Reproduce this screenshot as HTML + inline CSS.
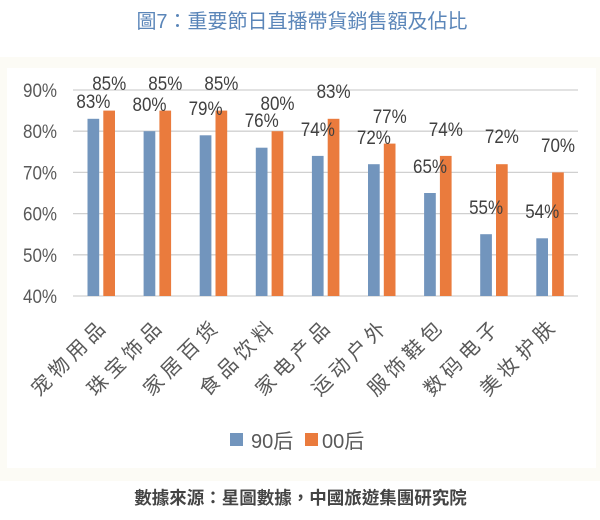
<!DOCTYPE html>
<html>
<head>
<meta charset="utf-8">
<style>
  html,body{margin:0;padding:0;background:#fff;}
  svg{display:block;}
  .num{font-family:"Liberation Sans","Noto Sans CJK SC",sans-serif;font-size:19px;fill:#404040;}
  .yl{font-family:"Liberation Sans","Noto Sans CJK SC",sans-serif;font-size:19px;fill:#595959;}
  .xl{font-family:"Liberation Sans","Noto Sans CJK SC",sans-serif;font-size:20px;fill:#595959;}
  .lg{font-family:"Liberation Sans","Noto Sans CJK SC",sans-serif;font-size:20px;fill:#595959;}
  .title{font-family:"Liberation Sans","Noto Sans CJK TC",sans-serif;font-size:20px;fill:#5b86b9;}
  .foot{font-family:"Liberation Sans","Noto Sans CJK TC",sans-serif;font-size:17.5px;font-weight:bold;fill:#444;}
</style>
</head>
<body>
<svg width="600" height="520" viewBox="0 0 600 520" xmlns="http://www.w3.org/2000/svg">
  <rect x="0" y="0" width="600" height="520" fill="#ffffff"/>
  <rect x="0" y="57" width="600" height="424" fill="#fcfbf5"/>
  <rect x="7" y="68" width="589" height="400" fill="#ffffff"/>

  <text class="title" x="302" y="28" text-anchor="middle">圖7：重要節日直播帶貨銷售額及佔比</text>

  <!-- gridlines -->
  <g stroke="#d0d0d0" stroke-width="1.3">
    <line x1="73" y1="90" x2="578" y2="90"/>
    <line x1="73" y1="131.2" x2="578" y2="131.2"/>
    <line x1="73" y1="172.4" x2="578" y2="172.4"/>
    <line x1="73" y1="213.6" x2="578" y2="213.6"/>
    <line x1="73" y1="254.8" x2="578" y2="254.8"/>
    <line x1="73" y1="296" x2="578" y2="296"/>
  </g>

  <!-- y labels -->
  <g class="yl">
    <text x="23" y="97" textLength="34" lengthAdjust="spacingAndGlyphs">90%</text>
    <text x="23" y="138.2" textLength="34" lengthAdjust="spacingAndGlyphs">80%</text>
    <text x="23" y="179.4" textLength="34" lengthAdjust="spacingAndGlyphs">70%</text>
    <text x="23" y="220.6" textLength="34" lengthAdjust="spacingAndGlyphs">60%</text>
    <text x="23" y="261.8" textLength="34" lengthAdjust="spacingAndGlyphs">50%</text>
    <text x="23" y="303" textLength="34" lengthAdjust="spacingAndGlyphs">40%</text>
  </g>

  <!-- bars -->
  <g fill="#7295bd">
    <rect x="87.5" y="118.8" width="11.7" height="177.2"/>
    <rect x="143.6" y="131.2" width="11.7" height="164.8"/>
    <rect x="199.7" y="135.3" width="11.7" height="160.7"/>
    <rect x="255.8" y="147.7" width="11.7" height="148.3"/>
    <rect x="311.9" y="155.9" width="11.7" height="140.1"/>
    <rect x="368.0" y="164.2" width="11.7" height="131.8"/>
    <rect x="424.1" y="193.0" width="11.7" height="103.0"/>
    <rect x="480.2" y="234.2" width="11.7" height="61.8"/>
    <rect x="536.3" y="238.3" width="11.7" height="57.7"/>
  </g>
  <g fill="#ea7b3d">
    <rect x="103.3" y="110.6" width="11.7" height="185.4"/>
    <rect x="159.4" y="110.6" width="11.7" height="185.4"/>
    <rect x="215.5" y="110.6" width="11.7" height="185.4"/>
    <rect x="271.6" y="131.2" width="11.7" height="164.8"/>
    <rect x="327.7" y="118.8" width="11.7" height="177.2"/>
    <rect x="383.8" y="143.6" width="11.7" height="152.4"/>
    <rect x="439.9" y="155.9" width="11.7" height="140.1"/>
    <rect x="496.0" y="164.2" width="11.7" height="131.8"/>
    <rect x="552.1" y="172.4" width="11.7" height="123.6"/>
  </g>

  <!-- value labels -->
  <g class="num">
    <text x="76.4" y="108" textLength="34" lengthAdjust="spacingAndGlyphs">83%</text>
    <text x="132.5" y="111" textLength="34" lengthAdjust="spacingAndGlyphs">80%</text>
    <text x="188.6" y="115" textLength="34" lengthAdjust="spacingAndGlyphs">79%</text>
    <text x="244.7" y="127" textLength="34" lengthAdjust="spacingAndGlyphs">76%</text>
    <text x="300.8" y="136" textLength="34" lengthAdjust="spacingAndGlyphs">74%</text>
    <text x="356.9" y="144" textLength="34" lengthAdjust="spacingAndGlyphs">72%</text>
    <text x="413.0" y="173" textLength="34" lengthAdjust="spacingAndGlyphs">65%</text>
    <text x="469.1" y="214" textLength="34" lengthAdjust="spacingAndGlyphs">55%</text>
    <text x="525.2" y="218" textLength="34" lengthAdjust="spacingAndGlyphs">54%</text>

    <text x="92.2" y="90" textLength="34" lengthAdjust="spacingAndGlyphs">85%</text>
    <text x="148.3" y="90" textLength="34" lengthAdjust="spacingAndGlyphs">85%</text>
    <text x="204.4" y="90" textLength="34" lengthAdjust="spacingAndGlyphs">85%</text>
    <text x="260.5" y="110" textLength="34" lengthAdjust="spacingAndGlyphs">80%</text>
    <text x="316.6" y="98" textLength="34" lengthAdjust="spacingAndGlyphs">83%</text>
    <text x="372.7" y="123" textLength="34" lengthAdjust="spacingAndGlyphs">77%</text>
    <text x="428.8" y="136" textLength="34" lengthAdjust="spacingAndGlyphs">74%</text>
    <text x="484.9" y="143" textLength="34" lengthAdjust="spacingAndGlyphs">72%</text>
    <text x="541.0" y="152" textLength="34" lengthAdjust="spacingAndGlyphs">70%</text>
  </g>

  <!-- x labels -->
  <g class="xl" text-anchor="middle" dominant-baseline="central">
    <text x="42.2" y="385.8" transform="rotate(-45 42.2 385.8)">宠</text>
    <text x="59.8" y="368.2" transform="rotate(-45 59.8 368.2)">物</text>
    <text x="77.4" y="350.6" transform="rotate(-45 77.4 350.6)">用</text>
    <text x="95.0" y="333.0" transform="rotate(-45 95.0 333.0)">品</text>

    <text x="98.3" y="385.8" transform="rotate(-45 98.3 385.8)">珠</text>
    <text x="115.9" y="368.2" transform="rotate(-45 115.9 368.2)">宝</text>
    <text x="133.5" y="350.6" transform="rotate(-45 133.5 350.6)">饰</text>
    <text x="151.1" y="333.0" transform="rotate(-45 151.1 333.0)">品</text>

    <text x="154.4" y="385.8" transform="rotate(-45 154.4 385.8)">家</text>
    <text x="172.0" y="368.2" transform="rotate(-45 172.0 368.2)">居</text>
    <text x="189.6" y="350.6" transform="rotate(-45 189.6 350.6)">百</text>
    <text x="207.2" y="333.0" transform="rotate(-45 207.2 333.0)">货</text>

    <text x="210.5" y="385.8" transform="rotate(-45 210.5 385.8)">食</text>
    <text x="228.1" y="368.2" transform="rotate(-45 228.1 368.2)">品</text>
    <text x="245.7" y="350.6" transform="rotate(-45 245.7 350.6)">饮</text>
    <text x="263.3" y="333.0" transform="rotate(-45 263.3 333.0)">料</text>

    <text x="266.6" y="385.8" transform="rotate(-45 266.6 385.8)">家</text>
    <text x="284.2" y="368.2" transform="rotate(-45 284.2 368.2)">电</text>
    <text x="301.8" y="350.6" transform="rotate(-45 301.8 350.6)">产</text>
    <text x="319.4" y="333.0" transform="rotate(-45 319.4 333.0)">品</text>

    <text x="322.7" y="385.8" transform="rotate(-45 322.7 385.8)">运</text>
    <text x="340.3" y="368.2" transform="rotate(-45 340.3 368.2)">动</text>
    <text x="357.9" y="350.6" transform="rotate(-45 357.9 350.6)">户</text>
    <text x="375.5" y="333.0" transform="rotate(-45 375.5 333.0)">外</text>

    <text x="378.8" y="385.8" transform="rotate(-45 378.8 385.8)">服</text>
    <text x="396.4" y="368.2" transform="rotate(-45 396.4 368.2)">饰</text>
    <text x="414.0" y="350.6" transform="rotate(-45 414.0 350.6)">鞋</text>
    <text x="431.6" y="333.0" transform="rotate(-45 431.6 333.0)">包</text>

    <text x="434.9" y="385.8" transform="rotate(-45 434.9 385.8)">数</text>
    <text x="452.5" y="368.2" transform="rotate(-45 452.5 368.2)">码</text>
    <text x="470.1" y="350.6" transform="rotate(-45 470.1 350.6)">电</text>
    <text x="487.7" y="333.0" transform="rotate(-45 487.7 333.0)">子</text>

    <text x="491.0" y="385.8" transform="rotate(-45 491.0 385.8)">美</text>
    <text x="508.6" y="368.2" transform="rotate(-45 508.6 368.2)">妆</text>
    <text x="527.2" y="349.6" transform="rotate(-45 527.2 349.6)">护</text>
    <text x="544.3" y="332.5" transform="rotate(-45 544.3 332.5)">肤</text>
  </g>

  <!-- legend -->
  <rect x="230" y="433" width="13" height="13" fill="#7295bd"/>
  <text class="lg" x="251" y="448">90后</text>
  <rect x="305" y="433" width="13" height="13" fill="#ea7b3d"/>
  <text class="lg" x="322" y="448">00后</text>

  <!-- footer -->
  <text class="foot" x="300.5" y="504" text-anchor="middle">數據來源：星圖數據，中國旅遊集團研究院</text>
</svg>
</body>
</html>
